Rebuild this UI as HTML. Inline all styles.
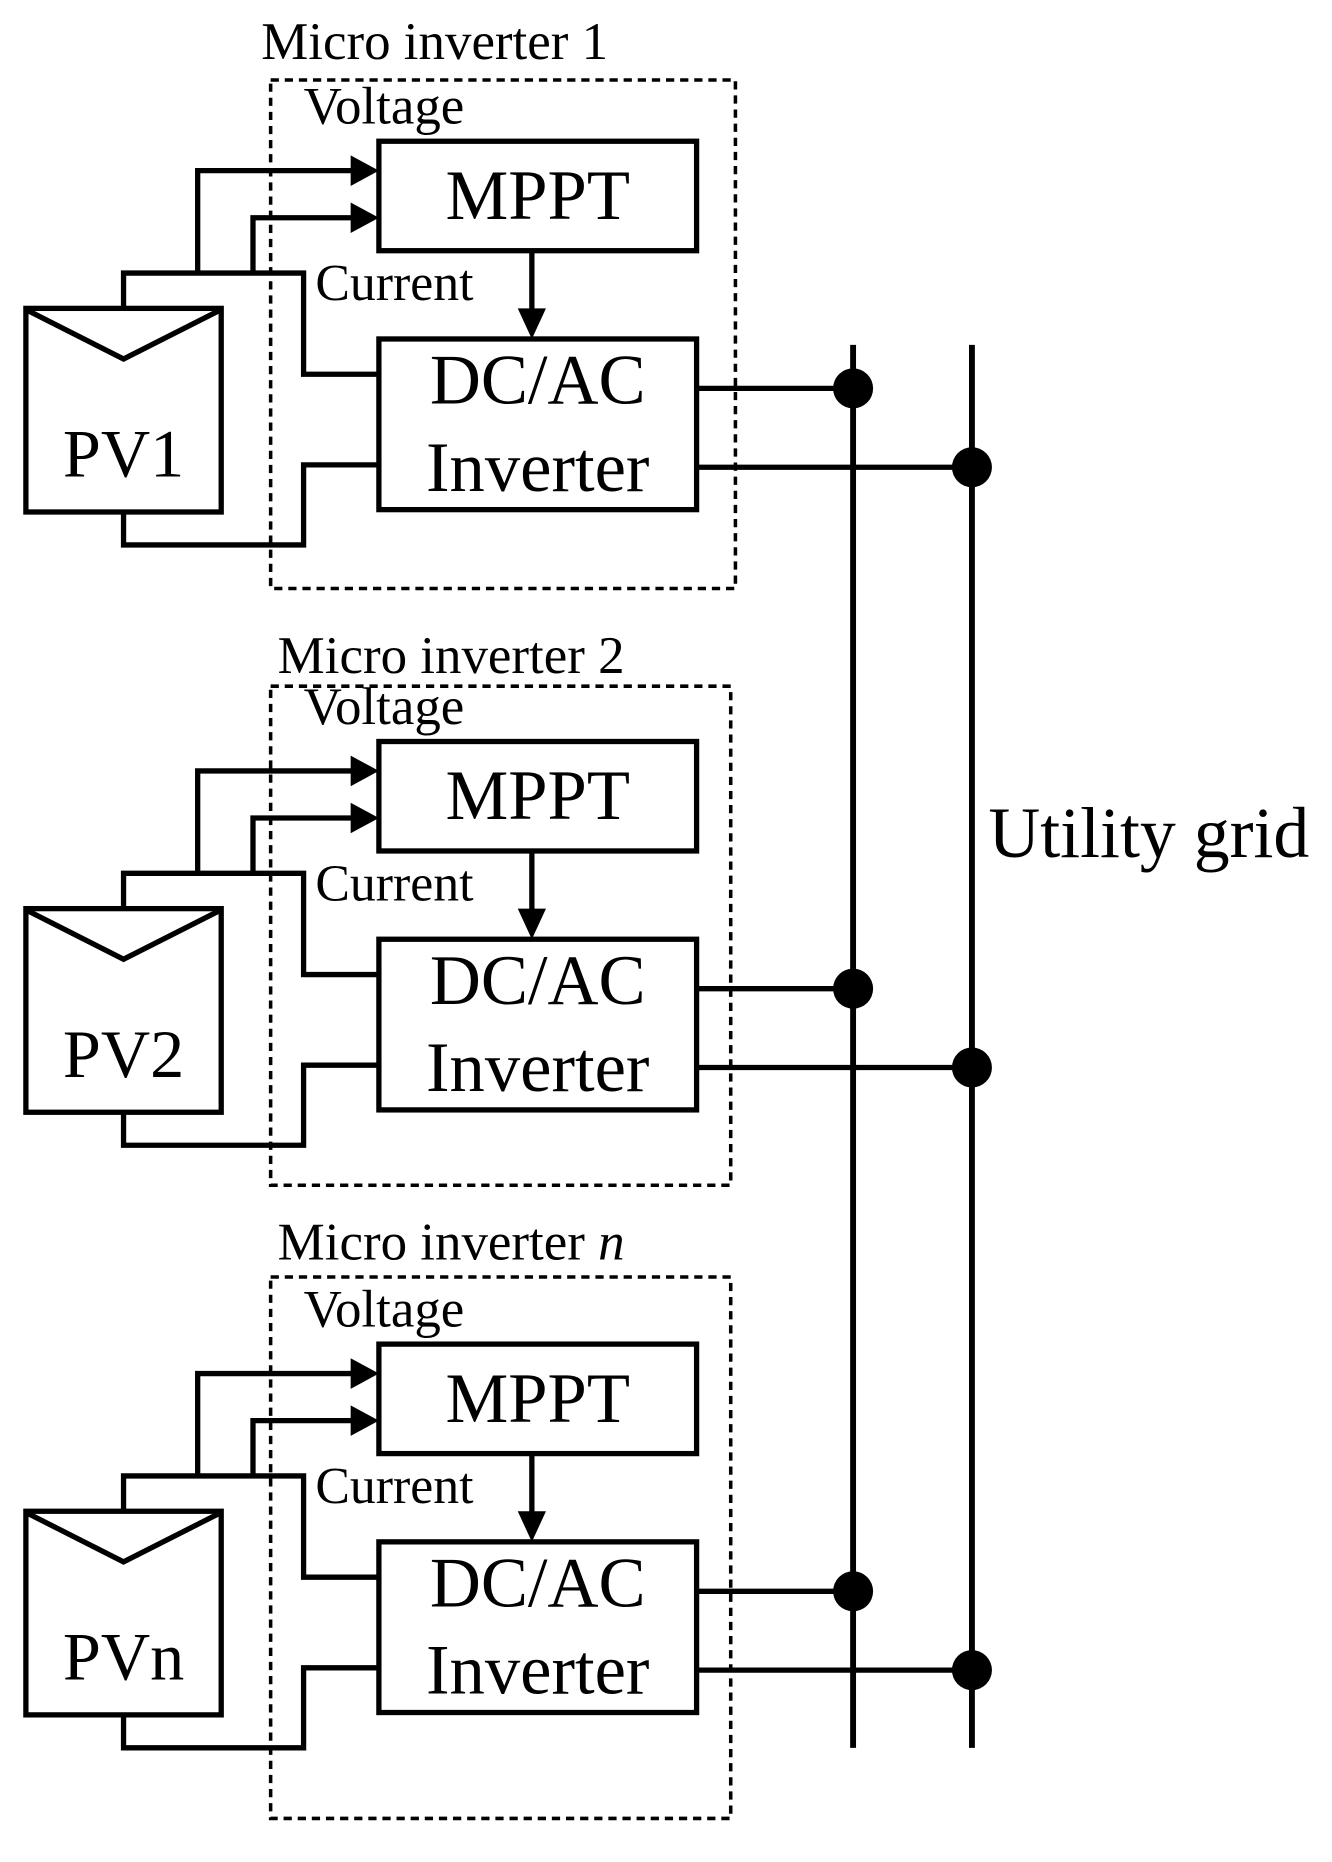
<!DOCTYPE html>
<html><head><meta charset="utf-8"><style>
html,body{margin:0;padding:0;background:#fff;width:1332px;height:1862px;overflow:hidden}
svg{display:block}
text{font-family:"Liberation Serif",serif;fill:#000}
</style></head><body>
<svg width="1332" height="1862" viewBox="0 0 1132 1582" preserveAspectRatio="none" xmlns="http://www.w3.org/2000/svg">
<defs>
<g id="blk" fill="none" stroke="#000" stroke-width="4.5">
  <rect x="322" y="120" width="270" height="93"/>
  <rect x="322" y="288" width="270" height="145"/>
  <rect x="22" y="262" width="166" height="173"/>
  <polyline points="24,264 105,305 186,264"/>
  <polyline points="105,262 105,232 258,232 258,318 322,318"/>
  <polyline points="105,435 105,463 258,463 258,395 322,395"/>
  <polyline points="168,232 168,145 300,145"/>
  <polyline points="215,232 215,185 300,185"/>
  <line x1="452" y1="213" x2="452" y2="265"/>
  <line x1="592" y1="330" x2="725" y2="330"/>
  <line x1="592" y1="397" x2="826" y2="397"/>
  <polygon points="298,132 322,145 298,158" fill="#000" stroke="none"/>
  <polygon points="298,172 322,185 298,198" fill="#000" stroke="none"/>
  <polygon points="440,262 452,288 464,262" fill="#000" stroke="none"/>
  <circle cx="725" cy="330" r="17" fill="#000" stroke="none"/>
  <circle cx="826" cy="397" r="17" fill="#000" stroke="none"/>
  <text x="457" y="186" font-size="60" text-anchor="middle" stroke="none" fill="#000" font-family="Liberation Serif, serif">MPPT</text>
  <text x="457" y="343" font-size="60" text-anchor="middle" stroke="none" fill="#000" font-family="Liberation Serif, serif">DC/AC</text>
  <text x="457" y="417" font-size="60" text-anchor="middle" stroke="none" fill="#000" font-family="Liberation Serif, serif">Inverter</text>
  <text x="258" y="105" font-size="45" stroke="none" fill="#000" font-family="Liberation Serif, serif">Voltage</text>
  <text x="268" y="255" font-size="44" stroke="none" fill="#000" font-family="Liberation Serif, serif">Current</text>
</g>
</defs>
<use href="#blk"/>
<text x="105" y="405" font-size="58" text-anchor="middle">PV1</text>
<g transform="translate(0,510)"><use href="#blk"/><text x="105" y="405" font-size="58" text-anchor="middle">PV2</text></g>
<g transform="translate(0,1022)"><use href="#blk"/><text x="105" y="405" font-size="58" text-anchor="middle">PVn</text></g>
<g fill="none" stroke="#000" stroke-width="3" stroke-dasharray="7,5">
<rect x="230" y="68" width="395" height="432"/>
<rect x="230" y="583" width="391" height="424"/>
<rect x="230" y="1085" width="391" height="460"/>
</g>
<g stroke="#000" stroke-width="5">
<line x1="725" y1="293" x2="725" y2="1485"/>
<line x1="826" y1="293" x2="826" y2="1485"/>
</g>
<text x="222" y="50" font-size="45">Micro inverter 1</text>
<text x="236" y="572" font-size="45">Micro inverter 2</text>
<text x="236" y="1070" font-size="45">Micro inverter <tspan font-style="italic">n</tspan></text>
<text x="840" y="728" font-size="61">Utility grid</text>
</svg>
</body></html>
